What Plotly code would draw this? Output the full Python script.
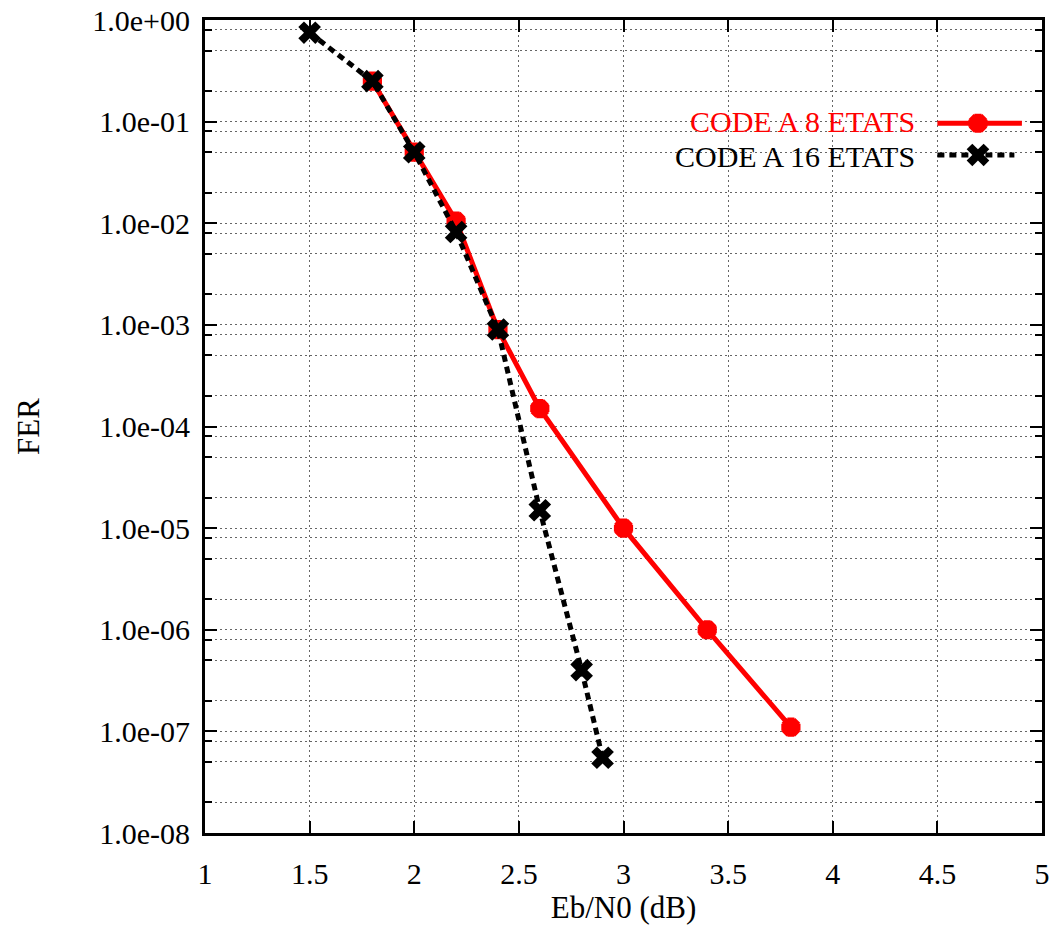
import plotly.graph_objects as go

# ---- data ----
x_8 = [1.8, 2.0, 2.2, 2.4, 2.6, 3.0, 3.4, 3.8]
fer_8 = [0.25, 0.05, 0.0105, 9.0e-4, 1.5e-4, 1.0e-5, 1.0e-6, 1.1e-7]
x_16 = [1.5, 1.8, 2.0, 2.2, 2.4, 2.6, 2.8, 2.9]
fer_16 = [0.75, 0.25, 0.05, 8.2e-3, 9.0e-4, 1.5e-5, 4.0e-7, 5.5e-8]

name_8 = "CODE A 8 ETATS"
name_16 = "CODE A 16 ETATS"

x_ticks = [1, 1.5, 2, 2.5, 3, 3.5, 4, 4.5, 5]
y_ticks = [1e0, 1e-1, 1e-2, 1e-3, 1e-4, 1e-5, 1e-6, 1e-7, 1e-8]
y_ticktext = ["1.0e+00", "1.0e-01", "1.0e-02", "1.0e-03", "1.0e-04",
              "1.0e-05", "1.0e-06", "1.0e-07", "1.0e-08"]
y_minor = [m * d for d in [1e0, 1e-1, 1e-2, 1e-3, 1e-4, 1e-5, 1e-6, 1e-7, 1e-8, 1e-9]
           for m in (0.8, 0.5, 0.2)]

RED = "#ff0000"
FONT = "Liberation Serif"

red_marker = dict(symbol="asterisk-open", size=16, color=RED,
                  line=dict(color=RED, width=7))
black_marker = dict(symbol="x", size=20, color="black", line=dict(width=0))

fig = go.Figure()

fig.add_trace(go.Scatter(
    x=x_8, y=fer_8, mode="lines+markers", name=name_8,
    line=dict(color=RED, width=5), marker=red_marker, showlegend=False,
))
fig.add_trace(go.Scatter(
    x=x_16, y=fer_16, mode="lines+markers", name=name_16,
    line=dict(color="black", width=5, dash="7px,5px"),
    marker=black_marker, showlegend=False,
))

# legend samples on an invisible overlay axis (0..1)
leg_x = [0.875, 0.9235, 0.976]
y_leg8, y_leg16 = 0.873, 0.834
fig.add_trace(go.Scatter(
    x=leg_x, y=[y_leg8] * 3, xaxis="x2", yaxis="y2", mode="lines",
    line=dict(color=RED, width=5), showlegend=False, hoverinfo="skip"))
fig.add_trace(go.Scatter(
    x=[leg_x[1]], y=[y_leg8], xaxis="x2", yaxis="y2", mode="markers",
    marker=red_marker, showlegend=False, hoverinfo="skip"))
fig.add_trace(go.Scatter(
    x=[0.875, 0.967], y=[y_leg16] * 2, xaxis="x2", yaxis="y2", mode="lines",
    line=dict(color="black", width=5, dash="7px,5px"),
    showlegend=False, hoverinfo="skip"))
fig.add_trace(go.Scatter(
    x=[leg_x[1]], y=[y_leg16], xaxis="x2", yaxis="y2", mode="markers",
    marker=black_marker, showlegend=False, hoverinfo="skip"))

fig.add_annotation(x=0.8495, y=0.8748, xref="paper", yref="paper",
                   text=name_8, showarrow=False, xanchor="right", yanchor="middle",
                   borderpad=0, font=dict(family=FONT, size=30, color=RED))
fig.add_annotation(x=0.8495, y=0.8322, xref="paper", yref="paper",
                   text=name_16, showarrow=False, xanchor="right", yanchor="middle",
                   borderpad=0, font=dict(family=FONT, size=30, color="black"))

GRIDC = "#666666"
grid = dict(showgrid=True, gridcolor=GRIDC, gridwidth=1, griddash="2px,3px")
tickfont = dict(family=FONT, size=30, color="black")
titlefont = dict(family=FONT, size=31, color="black")

fig.update_layout(
    width=1052, height=925,
    margin=dict(l=205, r=10, t=20, b=92, autoexpand=False),
    plot_bgcolor="white", paper_bgcolor="white",
    font=dict(family=FONT, size=28, color="black"),
    xaxis=dict(
        range=[1, 5], tickmode="array", tickvals=x_ticks,
        ticktext=[("%g" % v) for v in x_ticks], tickfont=tickfont,
        ticklabelstandoff=12,
        ticks="inside", ticklen=12, tickwidth=2, tickcolor="black",
        showline=True, linecolor="black", linewidth=3, mirror="ticks",
        zeroline=False, automargin=False,
        title=dict(text="Eb/N0 (dB)", standoff=14, font=titlefont),
        **grid,
    ),
    yaxis=dict(
        type="log", range=[-8, 0], tickmode="array", tickvals=y_ticks,
        ticktext=y_ticktext, tickfont=tickfont, ticklabelstandoff=6,
        ticks="inside", ticklen=12, tickwidth=2, tickcolor="black",
        showline=True, linecolor="black", linewidth=3, mirror="ticks",
        zeroline=False, automargin=False,
        title=dict(text="FER", standoff=44, font=titlefont),
        minor=dict(tickmode="array", tickvals=y_minor, ticks="inside",
                   ticklen=7, tickwidth=2, tickcolor="black",
                   showgrid=True, gridcolor=GRIDC, gridwidth=1,
                   griddash="2px,3px"),
        **grid,
    ),
    xaxis2=dict(overlaying="x", range=[0, 1], visible=False),
    yaxis2=dict(overlaying="y", range=[0, 1], visible=False),
)

fig.write_html("out.html")
